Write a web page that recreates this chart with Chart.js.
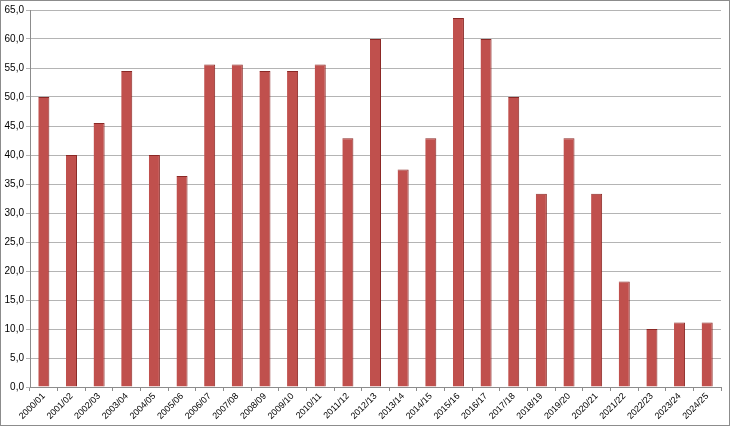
<!DOCTYPE html>
<html>
<head>
<meta charset="utf-8">
<script src="https://cdn.jsdelivr.net/npm/chart.js@4/dist/chart.umd.min.js"></script>
<style>
html,body{margin:0;padding:0;background:#fff;}
#wrap{width:730px;height:428px;position:relative;}
</style>
</head>
<body>
<div id="wrap"><canvas id="c" width="730" height="428"></canvas></div>
<script>
const categories = ["2000/01","2001/02","2002/03","2003/04","2004/05","2005/06","2006/07","2007/08","2008/09","2009/10","2010/11","2011/12","2012/13","2013/14","2014/15","2015/16","2016/17","2017/18","2018/19","2019/20","2020/21","2021/22","2022/23","2023/24","2024/25"];
const values = [50.0,40.0,45.5,54.5,40.0,36.4,55.6,55.6,54.5,54.5,55.6,42.9,60.0,37.5,42.9,63.6,60.0,50.0,33.3,42.9,33.3,18.2,10.0,11.1,11.1];
const yMin = 0, yMax = 65, yStep = 5;

const frame = {
  id:'frame',
  afterDraw(chart){
    const ctx = chart.ctx;
    ctx.save();
    ctx.strokeStyle = '#8c8c8c';
    ctx.lineWidth = 1;
    ctx.strokeRect(0.5,0.5,chart.width-1,chart.height-3);
    ctx.restore();
  }
};

new Chart(document.getElementById('c'), {
  type:'bar',
  data:{
    labels:categories,
    datasets:[{
      data:values,
      backgroundColor:'#C0504D',
      borderColor:'#8A2825',
      borderWidth:{top:1,right:1,left:0,bottom:0},
      borderSkipped:false,
      barPercentage:0.4,
      categoryPercentage:1.0
    }]
  },
  options:{
    responsive:false,
    animation:false,
    events:[],
    layout:{padding:{top:10,right:9,bottom:0,left:0}},
    plugins:{legend:{display:false},tooltip:{enabled:false}},
    scales:{
      x:{
        afterFit(s){ s.height = 41; },
        grid:{display:true,drawOnChartArea:false,drawTicks:true,tickLength:4,color:'#8c8c8c',offset:true},
        border:{display:true,color:'#8c8c8c'},
        ticks:{minRotation:45,maxRotation:45,autoSkip:false,padding:0,color:'#000',font:{family:'Liberation Sans',size:9}}
      },
      y:{
        min:yMin,max:yMax,
        afterFit(s){ s.width = 30; },
        grid:{color:'#b4b4b4',tickLength:4,drawTicks:true},
        border:{display:true,color:'#8c8c8c'},
        ticks:{stepSize:yStep,padding:2,color:'#000',font:{family:'Liberation Sans',size:10},
          callback:(v)=>v.toFixed(1).replace('.',',')}
      }
    }
  },
  plugins:[frame]
});
</script>
</body>
</html>
